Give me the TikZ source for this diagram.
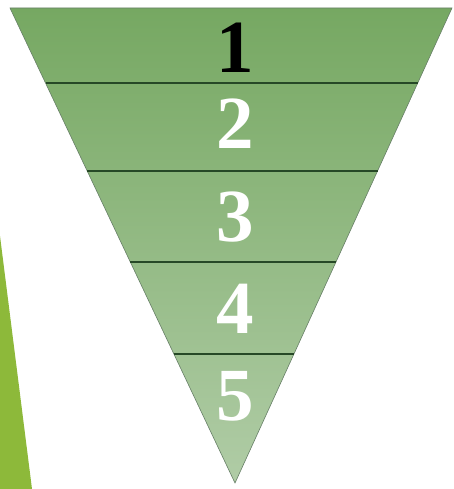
\documentclass[tikz,border=0pt]{standalone}
\usepackage{fontspec}
\setmainfont{Liberation Serif}
\usepackage{xcolor}
\usetikzlibrary{calc}
\definecolor{funneltop}{RGB}{118,168,98}
\definecolor{funnelbot}{RGB}{176,204,166}
\definecolor{funnelline}{RGB}{38,72,38}
\definecolor{sidebar}{RGB}{141,185,58}
\tikzset{
    level/.style={font=\fontsize{75}{75}\selectfont\bfseries, text=white, inner sep=0pt},
    divider/.style={funnelline, line width=1.6pt}
}

\begin{document}
\begin{tikzpicture}[x=1pt, y=-1pt]
    \useasboundingbox (0,0) rectangle (453,489);
    % 侧边条
    \fill[sidebar] (0,236) -- (32,489) -- (0,489) -- cycle;

    % 漏斗
    \coordinate (tl) at (10,8);
    \coordinate (tr) at (452,8);
    \coordinate (tip) at (235,483);
    \shade[top color=funneltop, bottom color=funnelbot, draw=funnelline!70, line width=0.6pt]
        (tl) -- (tr) -- (tip) -- cycle;

    % 分层线
    \foreach \y in {83,171,262,354} {
        \pgfmathsetmacro{\t}{(\y-8)/475}
        \draw[divider] ($(tl)!\t!(tip)$) -- ($(tr)!\t!(tip)$);
    }

    % 层号
    \node[level, text=black] (n1) at (235,48) {1};
    \node[level] (n2) at (235,124) {2};
    \node[level] (n3) at (235,217) {3};
    \node[level] (n4) at (235,309) {4};
    \node[level] (n5) at (235,396) {5};
\end{tikzpicture}
\end{document}
